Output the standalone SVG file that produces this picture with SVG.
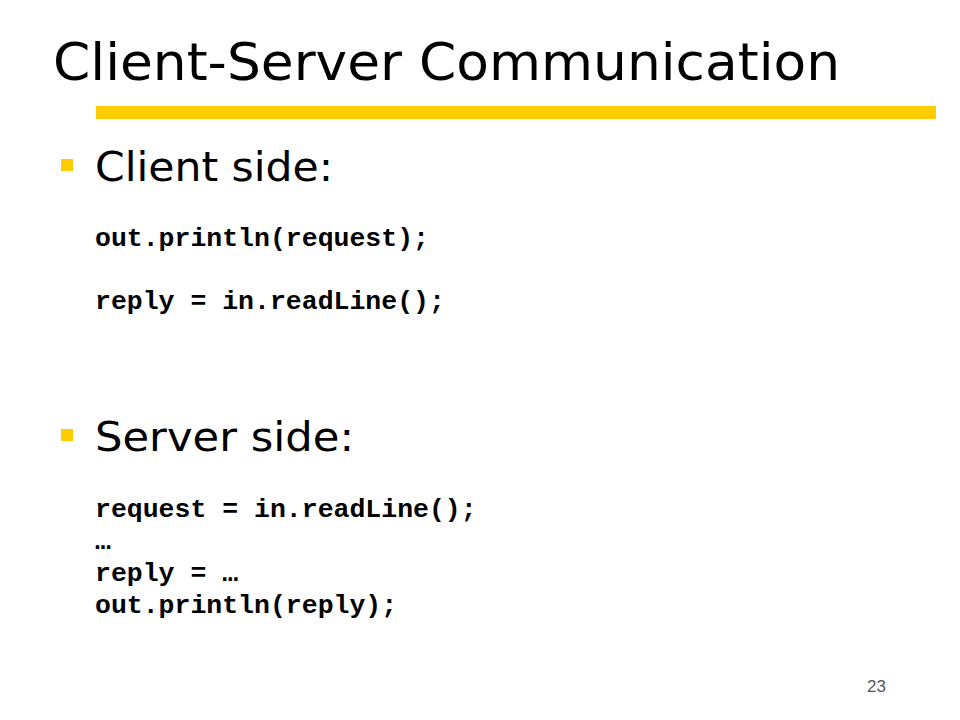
<svg xmlns="http://www.w3.org/2000/svg" width="960" height="720" viewBox="0 0 960 720">
<style>
.t{font-family:"DejaVu Sans","Liberation Sans",sans-serif;fill:#000}
.c{font-family:"Liberation Mono","Courier New",monospace;font-weight:bold;font-size:26.5px;fill:#000}
.y{fill:#FFCC00}
</style>
<rect width="960" height="720" fill="#fff"/>
<g id="title">
<text class="t" x="53" y="80" font-size="52" textLength="787" lengthAdjust="spacingAndGlyphs">Client-Server Communication</text>
<rect class="y" x="96" y="106" width="840" height="13"/>
</g>
<g id="client">
<rect class="y" x="61" y="159" width="12" height="12"/>
<text class="t" x="95" y="181" font-size="41" textLength="238" lengthAdjust="spacingAndGlyphs">Client side:</text>
<text class="c" x="95" y="246">out.println(request);</text>
<text class="c" x="95" y="309">reply = in.readLine();</text>
</g>
<g id="server">
<rect class="y" x="61" y="429" width="12" height="12"/>
<text class="t" x="95" y="451" font-size="41" textLength="259" lengthAdjust="spacingAndGlyphs">Server side:</text>
<text class="c" x="95" y="517">request = in.readLine();</text>
<text class="c" x="95" y="549">…</text>
<text class="c" x="95" y="581">reply = …</text>
<text class="c" x="95" y="613">out.println(reply);</text>
</g>
<text id="page" x="886" y="692" text-anchor="end" font-family="Liberation Sans, Arial, sans-serif" font-size="17" fill="#555">23</text>
</svg>
